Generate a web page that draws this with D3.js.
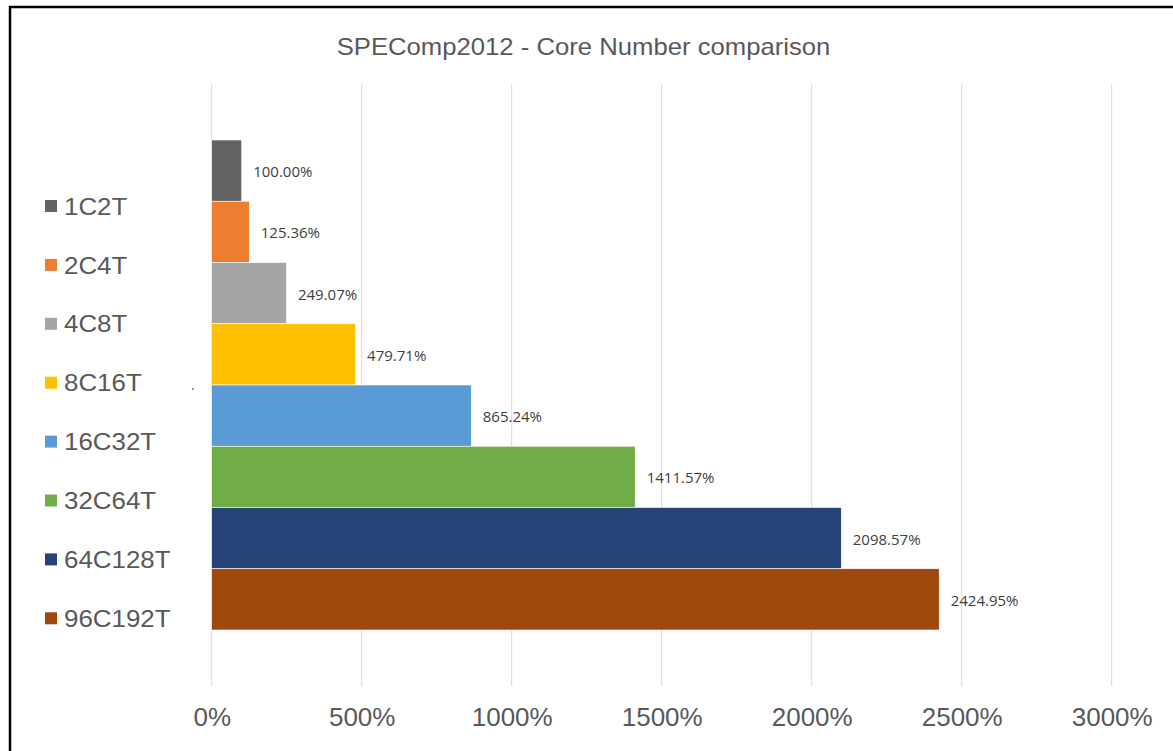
<!DOCTYPE html>
<html>
<head>
<meta charset="utf-8">
<script src="https://cdn.jsdelivr.net/npm/d3@7"></script>
<style>
  body { margin: 0; background: #fff; }
  svg { display: block; font-family: "Liberation Sans", Arial, sans-serif; }
</style>
</head>
<body>
<svg id="chart" width="1173" height="751"></svg>
<script>
// data
const configs = ["1C2T", "2C4T", "4C8T", "8C16T", "16C32T", "32C64T", "64C128T", "96C192T"];
const scores = [100.00, 125.36, 249.07, 479.71, 865.24, 1411.57, 2098.57, 2424.95];
const colors = ["#636363", "#ED7D31", "#A5A5A5", "#FFC000", "#5B9BD5", "#70AD47", "#264478", "#9E480E"];
const ticks = [0, 500, 1000, 1500, 2000, 2500, 3000];

const svg = d3.select("#chart");

// outer frame (runs off the right/bottom edge)
svg.append("rect")
    .attr("x", 10).attr("y", 7)
    .attr("width", 1200).attr("height", 800)
    .attr("fill", "none")
    .attr("stroke", "#000")
    .attr("stroke-width", 2.5);

// the source image is a bit stretched sideways, so text gets a small scaleX
svg.append("text")
    .attr("transform", "translate(583.5,55) scale(1.07,1)")
    .attr("text-anchor", "middle")
    .attr("font-size", 24)
    .attr("fill", "#595959")
    .text("SPEComp2012 - Core Number comparison");

const plotTop = 84, plotBottom = 686;

const x = d3.scaleLinear().domain([0, 3000]).range([211.7, 1111.7]);
const y = d3.scaleBand().domain(configs).range([140, 630]).padding(0);

// gridlines
svg.append("g")
  .selectAll("line")
  .data(ticks)
  .join("line")
    .attr("x1", d => x(d)).attr("x2", d => x(d))
    .attr("y1", plotTop).attr("y2", plotBottom)
    .attr("stroke", "#d9d9d9")
    .attr("stroke-width", 1);

// x axis labels
const xAxis = d3.axisBottom(x).tickValues(ticks).tickSize(0).tickPadding(0)
    .tickFormat(d => d + "%");
const ax = svg.append("g")
    .attr("transform", `translate(0,${plotBottom})`)
    .call(xAxis);
ax.select(".domain").remove();
ax.selectAll("text")
    .attr("font-family", "Liberation Sans, Arial, sans-serif")
    .attr("font-size", 25)
    .attr("fill", "#595959")
    .attr("y", 0)
    .attr("dy", null)
    .attr("transform", "translate(0,40) scale(1.04,1)");

// bars
svg.append("g")
  .selectAll("rect")
  .data(configs)
  .join("rect")
    .attr("x", x(0))
    .attr("y", d => y(d))
    .attr("width", (d, i) => x(scores[i]) - x(0))
    .attr("height", y.bandwidth())
    .attr("fill", (d, i) => colors[i])
    .attr("stroke", "#fff")
    .attr("stroke-width", 0.6);

// data labels
svg.append("g")
  .selectAll("text")
  .data(configs)
  .join("text")
    .attr("x", (d, i) => x(scores[i]) + 11.5)
    .attr("y", d => y(d) + y.bandwidth() / 2 + 1)
    .attr("dy", "0.36em")
    .attr("font-family", "'Open Sans', sans-serif")
    .attr("font-size", 15)
    .attr("fill", "#404040")
    .text((d, i) => scores[i].toFixed(2) + "%");

// legend
const legend = svg.append("g")
  .selectAll("g")
  .data(configs)
  .join("g")
    .attr("transform", (d, i) => `translate(45,${206 + i * 58.9})`);
legend.append("rect")
    .attr("x", 0).attr("y", -6)
    .attr("width", 12).attr("height", 12)
    .attr("fill", (d, i) => colors[i]);
legend.append("text")
    .attr("transform", "translate(19,0) scale(1.08,1)")
    .attr("dy", "0.36em")
    .attr("font-size", 24)
    .attr("fill", "#595959")
    .text(d => d);

// stray dot in the original
svg.append("circle").attr("cx", 193).attr("cy", 389).attr("r", 0.9).attr("fill", "#666");
</script>
</body>
</html>
